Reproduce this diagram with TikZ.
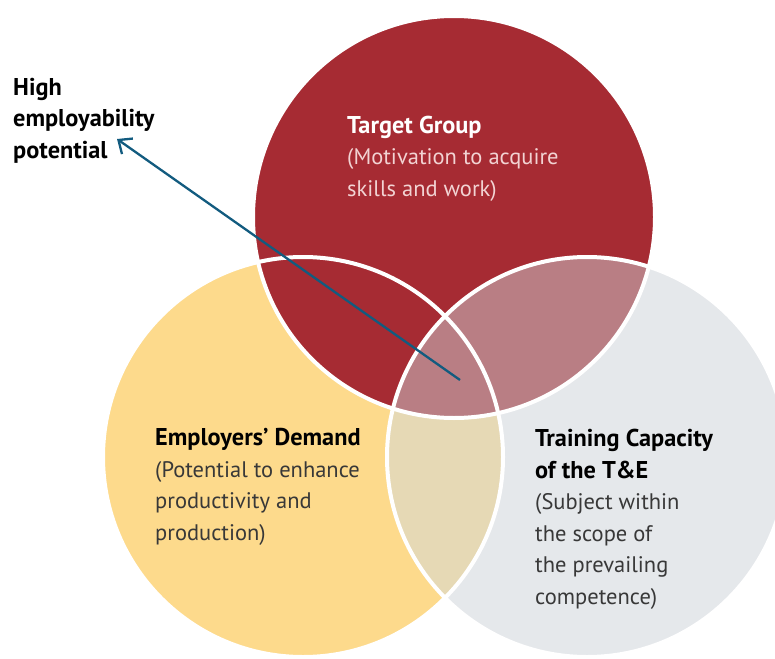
\documentclass[tikz,border=0pt]{standalone}
\usepackage{fontspec}
\setmainfont{PT Sans}
\usetikzlibrary{arrows.meta}
\definecolor{tgred}{HTML}{A62B33}
\definecolor{edyellow}{HTML}{FDDA8C}
\definecolor{tcgrey}{HTML}{E5E8EB}
\definecolor{tgpink}{HTML}{B97E84}
\definecolor{edtan}{HTML}{E6D9B5}
\definecolor{arrowblue}{HTML}{125B7F}
\definecolor{bodygrey}{HTML}{383838}
\definecolor{lightpink}{HTML}{F2D3D3}
\newcommand{\headline}[1]{{\fontsize{24.3}{31.5}\selectfont\bfseries #1}}
\begin{document}
\begin{tikzpicture}[x=1pt,y=-1pt,
	outline/.style={draw=white,line width=4pt},
	txt/.style={anchor=base west,inner sep=0pt,align=left,font=\fontsize{22.5}{31.5}\selectfont}]
	
	\useasboundingbox (0,0) rectangle (775,658);
	\clip (0,0) rectangle (775,658);
	
	% employers demand and training capacity
	\fill[edyellow] (303,457) circle (200);
	\fill[tcgrey] (587,457) circle (200);
	\begin{scope}
		\clip (303,457) circle (200);
		\fill[edtan] (587,457) circle (200);
	\end{scope}
	
	% target group
	\fill[tgred] (454,217) circle (201);
	\begin{scope}
		\clip (454,217) circle (201);
		\fill[tgpink] (587,457) circle (200);
	\end{scope}
	
	% white borders
	\draw[outline] (303,457) circle (200);
	\draw[outline] (587,457) circle (200);
	\draw[outline] (454,217) circle (201);
	
	% labels (base = last line)
	\node[txt] (high) at (13,158) {\headline{High}\\\headline{employability}\\\headline{potential}};
	\node[txt,text=lightpink] (target) at (347,196) {\headline{\color{white}Target Group}\\(Motivation to acquire\\skills and work)};
	\node[txt,text=bodygrey] (employers) at (155,540) {\headline{\color{black}Employers’ Demand}\\(Potential to enhance\\productivity and\\production)};
	\node[txt,text=bodygrey] (training) at (535,604) {\headline{\color{black}Training Capacity}\\\headline{\color{black}of the T\&E}\\(Subject within\\the scope of\\the prevailing\\competence)};
	
	% arrow
	\coordinate (centre) at (460,380);
	\coordinate (tip) at (117,139);
	\draw[-{Straight Barb[length=11pt,width=19pt]},arrowblue,line width=2.3pt] (centre) -- (tip);
	
\end{tikzpicture}
\end{document}
